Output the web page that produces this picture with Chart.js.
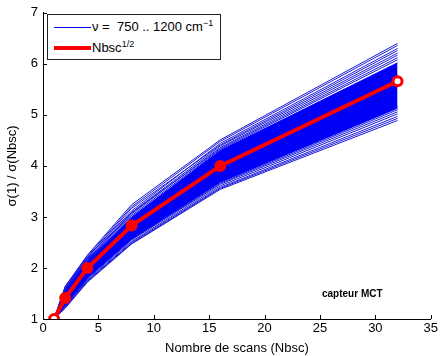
<!DOCTYPE html>
<html><head><meta charset="utf-8">
<script src="https://cdn.jsdelivr.net/npm/chart.js@4"></script>
<style>
html,body{margin:0;padding:0;background:#fff;}
#wrap{position:relative;width:440px;height:356px;}
#legend{position:absolute;left:47px;top:14px;width:174px;height:46px;border:1px solid #222;background:#fff;font-family:"Liberation Sans",Arial,sans-serif;font-size:13px;color:#000;box-sizing:border-box;}
.row{position:absolute;left:0;height:16px;line-height:16px;white-space:nowrap;}
.sw{position:absolute;left:6px;width:37px;}
.tx{position:absolute;left:44px;}
sup{font-size:9px;vertical-align:0;position:relative;top:-5px;}
#note{position:absolute;left:322px;top:288px;font-family:"Liberation Sans",Arial,sans-serif;font-size:10px;font-weight:bold;color:#000;}
</style></head>
<body>
<div id="wrap">
<canvas id="c" width="440" height="356"></canvas>
<div id="legend">
  <div class="row" style="top:4px;"><div class="sw" style="top:8px;height:1px;background:#0000ff;"></div><div class="tx">ν =&nbsp; 750 .. 1200 cm<sup>−1</sup></div></div>
  <div class="row" style="top:25px;"><div class="sw" style="top:6px;height:4px;background:#ff0000;"></div><div class="tx">Nbsc<sup>1/2</sup></div></div>
</div>
<div id="note">capteur MCT</div>
</div>
<script>
const nbsc = [1, 2, 4, 8, 16, 32];
const sqrtRatio = [1, 1.41, 2.0, 2.83, 4.0, 5.66];
const xTicks = [0, 5, 10, 15, 20, 25, 30, 35];
const yTicks = [1, 2, 3, 4, 5, 6, 7];
const bandUpper = [1, 1.55, 2.13, 3.00, 4.30, 6.02];
const bandLower = [1, 1.27, 1.81, 2.57, 3.68, 5.13];
const blueLines = [
  [1, 1.64, 2.25, 3.24, 4.51, 6.40],
  [1, 1.63, 2.23, 3.20, 4.48, 6.36],
  [1, 1.61, 2.21, 3.12, 4.44, 6.30],
  [1, 1.60, 2.20, 3.17, 4.41, 6.26],
  [1, 1.59, 2.18, 3.09, 4.39, 6.21],
  [1, 1.58, 2.16, 3.06, 4.36, 6.17],
  [1, 1.57, 2.15, 3.08, 4.34, 6.12],
  [1, 1.56, 2.14, 3.03, 4.32, 6.08],
  [1, 1.47, 2.04, 2.89, 4.08, 5.78],
  [1, 1.43, 2.00, 2.84, 4.02, 5.69],
  [1, 1.38, 1.95, 2.77, 3.92, 5.55],
  [1, 1.29, 1.83, 2.60, 3.70, 5.16],
  [1, 1.27, 1.80, 2.56, 3.66, 5.10],
  [1, 1.26, 1.79, 2.55, 3.64, 5.06],
  [1, 1.25, 1.77, 2.52, 3.61, 5.02],
  [1, 1.23, 1.75, 2.50, 3.58, 4.97],
  [1, 1.22, 1.74, 2.48, 3.56, 4.93],
  [1, 1.21, 1.72, 2.47, 3.54, 4.89]
];
const toPts = arr => nbsc.map((x, i) => ({x: x, y: arr[i]}));

const datasets = [];
datasets.push({data: toPts(sqrtRatio), borderColor: '#ff0000', borderWidth: 4, fill: false, tension: 0,
  pointRadius: 4.5, pointBorderWidth: 3, pointBorderColor: '#ff0000',
  pointBackgroundColor: ['#ffffff', '#ff0000', '#ff0000', '#ff0000', '#ff0000', '#ffffff']});
datasets.push({data: toPts(bandUpper), borderColor: '#0000ff', borderWidth: 1, backgroundColor: '#0000f6', fill: '+1', pointRadius: 0, tension: 0});
datasets.push({data: toPts(bandLower), borderColor: '#0000ff', borderWidth: 1, fill: false, pointRadius: 0, tension: 0});
blueLines.forEach(l => datasets.push({data: toPts(l), borderColor: '#1a1add', borderWidth: 1, fill: false, pointRadius: 0, tension: 0}));

const inwardTicks = {
  id: 'inwardTicks',
  afterDatasetsDraw(chart) {
    const ctx = chart.ctx, a = chart.chartArea;
    const xs = chart.scales.x, ys = chart.scales.y;
    ctx.save();
    ctx.strokeStyle = '#000'; ctx.lineWidth = 1;
    ctx.beginPath();
    xTicks.forEach(v => { const p = Math.round(xs.getPixelForValue(v)) + 0.5; ctx.moveTo(p, a.bottom); ctx.lineTo(p, a.bottom - 4); });
    yTicks.forEach(v => { const p = Math.round(ys.getPixelForValue(v)) + 0.5; ctx.moveTo(a.left, p); ctx.lineTo(a.left + 4, p); });
    ctx.stroke();
    ctx.restore();
  }
};

const font = {family: '"Liberation Sans", Arial, sans-serif', size: 13};
new Chart(document.getElementById('c'), {
  type: 'line',
  data: {datasets: datasets},
  options: {
    responsive: false, animation: false,
    layout: {padding: {top: 11, right: 6, left: 0, bottom: 0}},
    plugins: {legend: {display: false}, tooltip: {enabled: false}},
    scales: {
      x: {type: 'linear', min: 0, max: 35,
        afterBuildTicks: s => { s.ticks = xTicks.map(v => ({value: v})); },
        afterFit: s => { s.height = 37; },
        grid: {display: false, drawTicks: false},
        border: {display: true, color: '#000', width: 1},
        ticks: {color: '#000', font: font, padding: 2, maxRotation: 0},
        title: {display: true, text: 'Nombre de scans (Nbsc)', color: '#000', font: font, padding: {top: 0, bottom: 0}}
      },
      y: {type: 'linear', min: 1, max: 7,
        afterBuildTicks: s => { s.ticks = yTicks.map(v => ({value: v})); },
        afterFit: s => { s.width = 43; },
        grid: {display: false, drawTicks: false},
        border: {display: true, color: '#000', width: 1},
        ticks: {color: '#000', font: font, padding: 5},
        title: {display: true, text: 'σ(1) / σ(Nbsc)', color: '#000', font: font, padding: {top: 5, bottom: 0}}
      }
    }
  },
  plugins: [inwardTicks]
});
</script>
</body></html>
